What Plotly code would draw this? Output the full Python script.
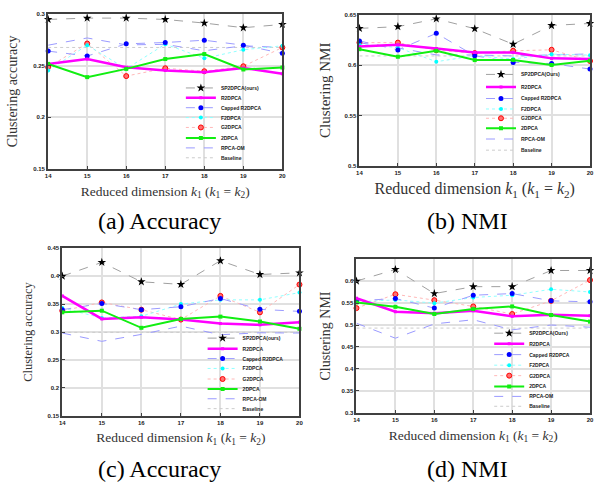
import plotly.graph_objects as go

W, H = 594, 487

# ---------------- data ----------------
k_dims = [14, 15, 16, 17, 18, 19, 20]
k_ticks = ["14", "15", "16", "17", "18", "19", "20"]

methods = ["SP2DPCA", "R2DPCA", "Capped R2DPCA", "F2DPCA", "G2DPCA", "2DPCA", "RPCA-OM", "Baseline"]

# (a) Accuracy
acc_a_sp2dpca = [0.2946, 0.2959, 0.2959, 0.2946, 0.2911, 0.2866, 0.2898]
acc_a_r2dpca = [0.2516, 0.2563, 0.2484, 0.2452, 0.2436, 0.2477, 0.2420]
acc_a_capped = [0.2640, 0.2592, 0.2710, 0.2723, 0.2745, 0.2697, 0.2618]
acc_a_f2dpca = [0.2452, 0.2697, 0.2468, 0.2707, 0.2570, 0.2653, 0.2691]
acc_a_g2dpca = [0.2484, 0.2713, 0.2398, 0.2474, 0.2445, 0.2493, 0.2675]
acc_a_2dpca = [0.2516, 0.2388, 0.2468, 0.2563, 0.2611, 0.2462, 0.2481]
acc_a_rpcaom = [0.2697, 0.2767, 0.2700, 0.2705, 0.2643, 0.2691, 0.2675]
acc_a_baseline = [0.2675, 0.2675, 0.2675, 0.2675, 0.2675, 0.2675, 0.2675]

# (b) NMI
nmi_b_sp2dpca = [0.6363, 0.6380, 0.6458, 0.6360, 0.6206, 0.6392, 0.6412]
nmi_b_r2dpca = [0.6183, 0.6200, 0.6164, 0.6125, 0.6125, 0.6066, 0.6059]
nmi_b_capped = [0.6239, 0.6150, 0.6314, 0.6092, 0.6026, 0.6015, 0.5960]
nmi_b_f2dpca = [0.6206, 0.6173, 0.6033, 0.6092, 0.6059, 0.6108, 0.6098]
nmi_b_g2dpca = [0.6222, 0.6222, 0.6147, 0.6118, 0.6141, 0.6151, 0.6040]
nmi_b_2dpca = [0.6157, 0.6082, 0.6141, 0.6049, 0.6050, 0.6000, 0.6043]
nmi_b_rpcaom = [0.6220, 0.6170, 0.6100, 0.6100, 0.6090, 0.6100, 0.6110]
nmi_b_baseline = [0.6090, 0.6090, 0.6090, 0.6090, 0.6090, 0.6090, 0.6090]

# (c) Accuracy
acc_c_sp2dpca = [0.4000, 0.4247, 0.3900, 0.3853, 0.4277, 0.4030, 0.4060]
acc_c_r2dpca = [0.3647, 0.3235, 0.3264, 0.3223, 0.3152, 0.3129, 0.3176]
acc_c_capped = [0.3400, 0.3512, 0.3400, 0.3453, 0.3600, 0.3406, 0.3370]
acc_c_f2dpca = [0.3430, 0.3253, 0.3282, 0.3500, 0.3576, 0.3576, 0.3706]
acc_c_g2dpca = [0.3380, 0.3530, 0.3400, 0.3223, 0.3647, 0.3353, 0.3850]
acc_c_2dpca = [0.3353, 0.3382, 0.3076, 0.3235, 0.3276, 0.3188, 0.3058]
acc_c_rpcaom = [0.2982, 0.2834, 0.2958, 0.3106, 0.2952, 0.2987, 0.2982]
acc_c_baseline = [0.2994, 0.2994, 0.2994, 0.2994, 0.2994, 0.2994, 0.2994]

# (d) NMI
nmi_d_sp2dpca = [0.6000, 0.6264, 0.5716, 0.5873, 0.5873, 0.6241, 0.6241]
nmi_d_r2dpca = [0.5610, 0.5302, 0.5266, 0.5324, 0.5198, 0.5234, 0.5212]
nmi_d_capped = [0.5550, 0.5604, 0.5385, 0.5678, 0.5716, 0.5550, 0.5527]
nmi_d_f2dpca = [0.5527, 0.5572, 0.5498, 0.5626, 0.5678, 0.5813, 0.5752]
nmi_d_g2dpca = [0.5385, 0.5700, 0.5565, 0.5423, 0.5250, 0.5550, 0.6023]
nmi_d_2dpca = [0.5513, 0.5414, 0.5250, 0.5363, 0.5423, 0.5227, 0.5077]
nmi_d_rpcaom = [0.5040, 0.4700, 0.5025, 0.5120, 0.4890, 0.5000, 0.4950]
nmi_d_baseline = [0.4930, 0.4930, 0.4930, 0.4930, 0.4930, 0.4930, 0.4930]

# tick labels
ytick_a = ["0.15", "0.2", "0.25", "0.3"]
ytick_b = ["0.5", "0.55", "0.6", "0.65"]
ytick_c = ["0.15", "0.2", "0.25", "0.3", "0.35", "0.4", "0.45"]
ytick_d = ["0.3", "0.35", "0.4", "0.45", "0.5", "0.55", "0.6"]

captions = ["(a) Accuracy", "(b) NMI", "(c) Accuracy", "(d) NMI"]
first_labels = ["SP2DPCA(ours)", "SP2DPCA(Ours)", "SP2DPCA(ours)", "SP2DPCA(Ours)"]

# ---------------- styles ----------------
styles = {
    "SP2DPCA": dict(mode="lines+markers", line=dict(color="#a0a0a0", width=1, dash="dash"),
                    marker=dict(symbol="star", size=6.5, color="black")),
    "R2DPCA": dict(mode="lines+markers", line=dict(color="#ff00ff", width=2.5),
                   marker=dict(symbol="square", size=3, color="#ff00ff")),
    "Capped R2DPCA": dict(mode="lines+markers", line=dict(color="#9c9cff", width=1, dash="dash"),
                          marker=dict(symbol="circle", size=5, color="#0000ff")),
    "F2DPCA": dict(mode="lines+markers", line=dict(color="#90ffff", width=1, dash="dot"),
                   marker=dict(symbol="circle", size=4, color="#00ffff")),
    "G2DPCA": dict(mode="lines+markers", line=dict(color="#ffb8b8", width=1, dash="dot"),
                   marker=dict(symbol="circle", size=5, color="#ff7070", line=dict(color="#ff0000", width=1))),
    "2DPCA": dict(mode="lines+markers", line=dict(color="#11ee11", width=2),
                  marker=dict(symbol="square", size=4, color="#11ee11")),
    "RPCA-OM": dict(mode="lines", line=dict(color="#9a9aff", width=1, dash="dash")),
    "Baseline": dict(mode="lines", line=dict(color="#cccccc", width=1, dash="dot")),
}

panels = [
    dict(series=[acc_a_sp2dpca, acc_a_r2dpca, acc_a_capped, acc_a_f2dpca, acc_a_g2dpca, acc_a_2dpca, acc_a_rpcaom, acc_a_baseline],
         px=(45.7, 282.7), py=(11, 168), yr=(0.15, 0.30), yt=ytick_a, ytitle="Clustering accuracy", ytsize=14, xtsize=13.5,
         ystand=12, leg_text=213, leg_y=[86, 96, 106, 116, 126, 136.7, 146.7, 156.7], cap=(158, 221)),
    dict(series=[nmi_b_sp2dpca, nmi_b_r2dpca, nmi_b_capped, nmi_b_f2dpca, nmi_b_g2dpca, nmi_b_2dpca, nmi_b_rpcaom, nmi_b_baseline],
         px=(360.7, 594), py=(11.7, 165), yr=(0.50, 0.65), yt=ytick_b, ytitle="Clustering NMI", ytsize=15, xtsize=16,
         ystand=10, leg_text=516.7, leg_y=[72.3, 85, 96.7, 107.3, 116.7, 126.7, 137.7, 149], cap=(470, 221)),
    dict(series=[acc_c_sp2dpca, acc_c_r2dpca, acc_c_capped, acc_c_f2dpca, acc_c_g2dpca, acc_c_2dpca, acc_c_rpcaom, acc_c_baseline],
         px=(60, 300), py=(248.3, 418), yr=(0.15, 0.45), yt=ytick_c, ytitle="Clustering accuracy", ytsize=12.5, xtsize=13.5,
         ystand=12, leg_text=235, leg_y=[339.3, 350, 360, 370, 380.7, 390.7, 400.7, 410.7], cap=(158, 472)),
    dict(series=[nmi_d_sp2dpca, nmi_d_r2dpca, nmi_d_capped, nmi_d_f2dpca, nmi_d_g2dpca, nmi_d_2dpca, nmi_d_rpcaom, nmi_d_baseline],
         px=(357.7, 594), py=(259.3, 415), yr=(0.30, 0.65), yt=ytick_d, ytitle="Clustering NMI", ytsize=14, xtsize=13.5,
         ystand=8, leg_text=525, leg_y=[334.3, 345, 356, 366.7, 377.3, 388.3, 398.3, 408.3], cap=(470, 472)),
]

draw_order = [7, 6, 4, 3, 2, 1, 5, 0]

fig = go.Figure()
layout = dict(
    width=W, height=H, margin=dict(l=0, r=0, t=0, b=0),
    paper_bgcolor="white", plot_bgcolor="white", showlegend=True,
    annotations=[],
)

tick_font = dict(family="Liberation Sans, Arial", size=6, color="#222222", weight="bold")
serif = "Liberation Serif, Times New Roman, serif"

for p_i, p in enumerate(panels):
    ax = "" if p_i == 0 else str(p_i + 1)
    xa, ya = "x" + ax, "y" + ax
    for m_i in draw_order:
        name = methods[m_i]
        label = first_labels[p_i] if m_i == 0 else name
        leg_name = "legend" + ("" if (p_i * 8 + m_i) == 0 else str(p_i * 8 + m_i + 1))
        st = styles[name]
        fig.add_trace(go.Scatter(x=k_dims, y=p["series"][m_i], name=label, xaxis=xa, yaxis=ya,
                                 legend=leg_name, cliponaxis=False, **st))
        layout[leg_name] = dict(
            x=(p["leg_text"] - 33) / W, y=1 - p["leg_y"][m_i] / H, xanchor="left", yanchor="middle",
            xref="paper", yref="paper", bgcolor="rgba(0,0,0,0)", borderwidth=0,
            font=dict(family="Liberation Sans, Arial", size=5, color="#222222", weight="bold"),
            itemwidth=30, tracegroupgap=0,
        )
    yvals = [float(t) for t in p["yt"]]
    layout["xaxis" + ax] = dict(
        domain=[p["px"][0] / W, p["px"][1] / W], anchor=ya, range=[14, 20],
        tickvals=k_dims, ticktext=k_ticks, tickfont=tick_font,
        showgrid=True, gridcolor="#e0e0e0", gridwidth=2, zeroline=False,
        showline=True, linecolor="#404040", linewidth=2, mirror=True,
        ticks="inside", ticklen=3, tickcolor="#404040",
        title=dict(text="Reduced dimension <i>k</i><sub>1</sub> (<i>k</i><sub>1</sub> = <i>k</i><sub>2</sub>)",
                   font=dict(family=serif, size=p["xtsize"], color="#333333"), standoff=8),
    )
    layout["yaxis" + ax] = dict(
        domain=[1 - p["py"][1] / H, 1 - p["py"][0] / H], anchor=xa, range=list(p["yr"]),
        tickvals=yvals, ticktext=p["yt"], tickfont=tick_font,
        showgrid=True, gridcolor="#e0e0e0", gridwidth=1.5, zeroline=False,
        showline=True, linecolor="#404040", linewidth=2, mirror=True,
        ticks="inside", ticklen=3, tickcolor="#404040",
        title=dict(text=p["ytitle"], font=dict(family=serif, size=p["ytsize"], color="#333333"), standoff=p["ystand"]),
    )
    layout["annotations"].append(dict(
        text=captions[p_i], x=p["cap"][0] / W, y=1 - p["cap"][1] / H, xref="paper", yref="paper",
        xanchor="center", yanchor="middle", showarrow=False,
        font=dict(family=serif, size=24, color="black"),
    ))

fig.update_layout(**layout)
fig.write_html("out.html", config={"displayModeBar": False},
               post_script="document.body.style.margin='0';document.body.style.overflow='hidden';")
